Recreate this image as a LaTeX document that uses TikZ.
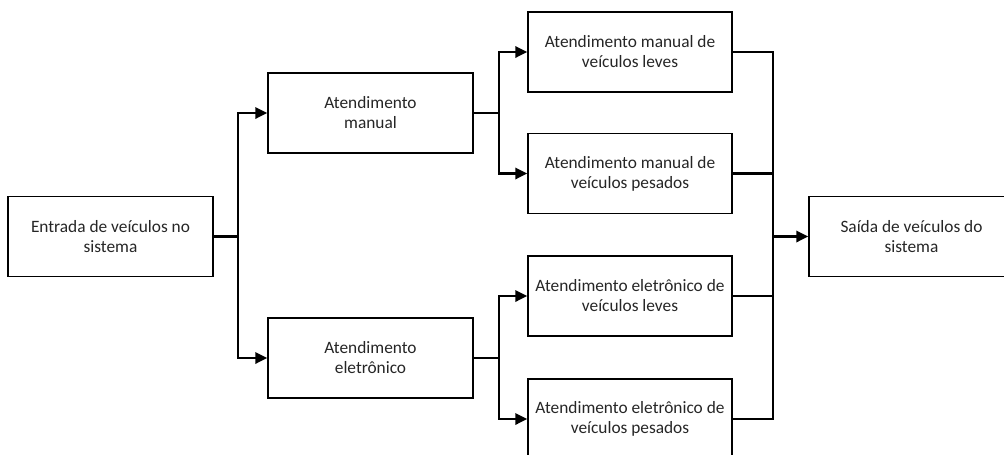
\documentclass[tikz,border=0pt]{standalone}
\usepackage{fontspec}
\setmainfont{Carlito}
\usetikzlibrary{arrows.meta}
\tikzset{
  blk/.style={draw=black, line width=1.1pt, rectangle, minimum width=153.75pt, minimum height=60pt, inner sep=0pt, align=center, text=black!85, font=\fontsize{13}{15}\selectfont},
  conn/.style={draw=black, line width=1.7pt},
  arr/.style={conn, -{Triangle[length=9pt,width=8.5pt]}}
}
\begin{document}
\begin{tikzpicture}[x=0.75pt,y=-0.75pt]
\useasboundingbox (0,0) rectangle (1004,454);
\fill[white] (0,0) rectangle (1004,454);
\clip (0,0) rectangle (1004,454);
\node[blk] (ent) at (110.5,236.5) {Entrada de veículos no\\sistema};
\node[blk] (man) at (370.5,113) {Atendimento\\manual};
\node[blk] (ele) at (370.5,358) {Atendimento\\eletrônico};
\node[blk, minimum width=153pt] (mlev) at (630,52) {Atendimento manual de\\veículos leves};
\node[blk, minimum width=153pt] (mpes) at (630,173.5) {Atendimento manual de\\veículos pesados};
\node[blk, minimum width=153pt] (elev) at (630,296) {Atendimento eletrônico de\\veículos leves};
\node[blk, minimum width=153pt] (epes) at (630,419) {Atendimento eletrônico de\\veículos pesados};
\node[blk] (sai) at (911.5,236.5) {Saída de veículos do\\sistema};
\coordinate (b1) at (238,236.5);
\coordinate (b2) at (499,113);
\coordinate (b3) at (499,358);
\coordinate (b4) at (773,236.5);
\draw[conn] (ent.east) -- (b1);
\draw[arr] (b1) |- (man.west);
\draw[arr] (b1) |- (ele.west);
\draw[conn] (man.east) -- (b2);
\draw[arr] (b2) |- (mlev.west);
\draw[arr] (b2) |- (mpes.west);
\draw[conn] (ele.east) -- (b3);
\draw[arr] (b3) |- (elev.west);
\draw[arr] (b3) |- (epes.west);
\draw[conn] (mlev.east) -| (b4);
\draw[conn] (mpes.east) -| (b4);
\draw[conn] (elev.east) -| (b4);
\draw[conn] (epes.east) -| (b4);
\draw[arr] (b4) -- (sai.west);
\end{tikzpicture}
\end{document}
